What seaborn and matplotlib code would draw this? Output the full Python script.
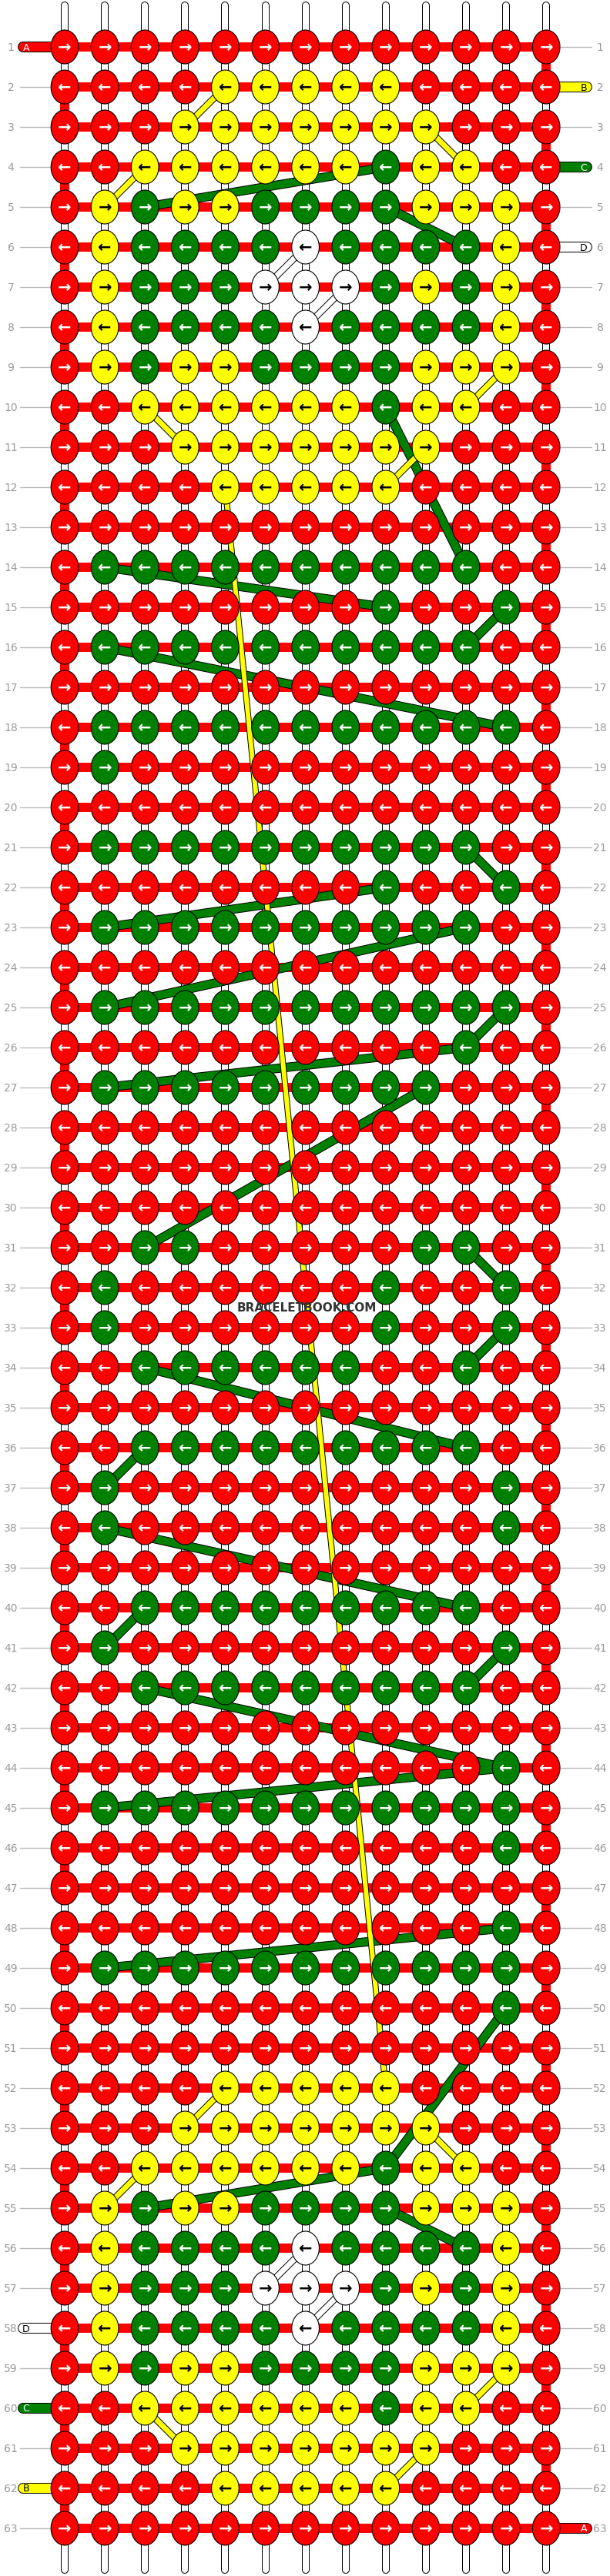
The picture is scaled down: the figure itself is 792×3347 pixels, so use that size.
import numpy as np
import pandas as pd
import matplotlib
matplotlib.use("Agg")
import matplotlib.pyplot as plt
import seaborn as sns
from matplotlib.path import Path

sns.set_style("white")
plt.rcParams['font.family'] = ['DejaVu Sans']

# knot colours, one string per row (13 knots): R red, Y yellow, G green, W white
rows = [
    "RRRRRRRRRRRRR", "RRRRYYYYYRRRR", "RRRYYYYYYYRRR", "RRYYYYYYGYYRR",
    "RYGYYGGGGYYYR", "RYGGGGWGGGGYR", "RYGGGWWWGYGYR", "RYGGGGWGGGGYR",
    "RYGYYGGGGYYYR", "RRYYYYYYGYYRR", "RRRYYYYYYYRRR", "RRRRYYYYYRRRR",
    "RRRRRRRRRRRRR", "RGGGGGGGGGGRR", "RRRRRRRRGRRGR", "RGGGGGGGGGGRR",
    "RRRRRRRRRRRRR", "RGGGGGGGGGGGR", "RGRRRRRRRRRRR", "RRRRRRRRRRRRR",
    "RGGGGGGGGGGRR", "RRRRRRRRGRRGR", "RGGGGGGGGGGRR", "RRRRRRRRRRRRR",
    "RGGGGGGGGGGGR", "RRRRRRRRRRGRR", "RGGGGGGGGGRRR", "RRRRRRRRRRRRR",
    "RRRRRRRRRRRRR", "RRRRRRRRRRRRR", "RRGGRRRRRGGRR", "RGRRRRRRGRRGR",
    "RGRRRRRRGRRGR", "RRGGGGGGRRGRR", "RRRRRRRRRRRRR", "RRGGGGGGGGGRR",
    "RGRRRRRRRRRGR", "RGRRRRRRRRRGR", "RRRRRRRRRRRRR", "RRGGGGGGGGGRR",
    "RGRRRRRRRRRGR", "RRGGGGGGGGGRR", "RRRRRRRRRRRRR", "RRRRRRRRRRRGR",
    "RGGGGGGGGGGGR", "RRRRRRRRRRRGR", "RRRRRRRRRRRRR", "RRRRRRRRRRRGR",
    "RGGGGGGGGGGGR", "RRRRRRRRRRRGR", "RRRRRRRRRRRRR", "RRRRYYYYYRRRR",
    "RRRYYYYYYYRRR", "RRYYYYYYGYYRR", "RYGYYGGGGYYYR", "RYGGGGWGGGGYR",
    "RYGGGWWWGYGYR", "RYGGGGWGGGGYR", "RYGYYGGGGYYYR", "RRYYYYYYGYYRR",
    "RRRYYYYYYYRRR", "RRRRYYYYYRRRR", "RRRRRRRRRRRRR",
]
row_labels = [str(i + 1) for i in range(len(rows))]
colour_map = {"R": "#ff0000", "Y": "#ffff00", "G": "#008000", "W": "#ffffff"}

# side threads: (row index, side, letter, colour key)
side_threads = [(0, "left", "A", "R"), (1, "right", "B", "Y"), (3, "right", "C", "G"),
                (5, "right", "D", "W"), (57, "left", "D", "W"), (59, "left", "C", "G"),
                (61, "left", "B", "Y"), (62, "right", "A", "R")]

# long yellow thread running down the middle: (row, col) pairs
yellow_long = [((11, 4.0), (51, 8.0))]

# short yellow crossings at the diamonds
yellow_short = [((1, 4), (2, 3)), ((2, 9), (3, 10)), ((3, 2), (4, 1)), ((8, 11), (9, 10)),
                ((9, 2), (10, 3)), ((10, 9), (11, 8)),
                ((51, 4), (52, 3)), ((52, 9), (53, 10)), ((53, 2), (54, 1)), ((58, 11), (59, 10)),
                ((59, 2), (60, 3)), ((60, 9), (61, 8))]

# white crossings in the diamond centres
white_short = [((5, 6), (6, 5)), ((6, 7), (7, 6)), ((55, 6), (56, 5)), ((56, 7), (57, 6))]

# green thread travelling across the rows
green_path = [((3, 8), (4, 2)), ((4, 8), (5, 10)), ((9, 8), (13, 10)), ((13, 1), (14, 8)),
              ((14, 11), (15, 10)), ((15, 1), (17, 11)), ((20, 10), (21, 11)), ((21, 8), (22, 1)),
              ((22, 10), (24, 1)), ((24, 11), (25, 10)), ((25, 10), (26, 1)), ((26, 9), (30, 2)),
              ((30, 10), (31, 11)), ((32, 11), (33, 10)), ((33, 2), (35, 10)), ((35, 2), (36, 1)),
              ((37, 1), (39, 10)), ((39, 2), (40, 1)), ((40, 11), (41, 10)), ((41, 2), (43, 11)),
              ((43, 11), (44, 1)), ((47, 11), (48, 1)), ((49, 11), (53, 8)), ((53, 8), (54, 2)),
              ((54, 8), (55, 10))]

W, H = 792, 3348
x0, dx = 84, 52.1
y0, dy = 62, 52.0
n_rows, n_cols = len(rows), len(rows[0])

def px(c):
    return x0 + c * dx

def py(r):
    return y0 + r * dy

recs = []
for r, s in enumerate(rows):
    for c, k in enumerate(s):
        recs.append({"x": px(c), "y": py(r), "k": k, "row": r})
df = pd.DataFrame(recs)

fig = plt.figure(figsize=(W / 100, H / 100), dpi=100)
ax = fig.add_axes([0, 0, 1, 1])
ax.set_xlim(0, W)
ax.set_ylim(H, 0)
ax.axis("off")

pt = 72 / 100  # points per pixel

# vertical white strands at top and bottom
for c in range(n_cols):
    for ya, yb in [(8, py(0)), (py(n_rows - 1), H - 8)]:
        ax.plot([px(c), px(c)], [ya, yb], color="black", lw=10 * pt, solid_capstyle="round", zorder=1)
        ax.plot([px(c), px(c)], [ya, yb], color="white", lw=8 * pt, solid_capstyle="round", zorder=1.1)
    for r in range(n_rows - 1):
        ax.plot([px(c), px(c)], [py(r), py(r + 1)], color="black", lw=10 * pt, zorder=1)
        ax.plot([px(c), px(c)], [py(r), py(r + 1)], color="white", lw=8 * pt, zorder=1.1)

# red working thread turning at the edges
for r in range(n_rows - 1):
    c = n_cols - 1 if r % 2 == 0 else 0
    ax.plot([px(c), px(c)], [py(r), py(r + 1)], color="#ff0000", lw=12 * pt, zorder=1.2)

# horizontal red threads
for r in range(n_rows):
    ax.plot([px(0), px(n_cols - 1)], [py(r), py(r)], color="#ff0000", lw=12 * pt, zorder=2)

# gray row label guides and labels
for r, lab in enumerate(row_labels):
    ax.plot([26, 66], [py(r), py(r)], color="#bbbbbb", lw=1, zorder=0.5)
    ax.plot([728, 768], [py(r), py(r)], color="#bbbbbb", lw=1, zorder=0.5)
    ax.text(14, py(r), lab, ha="center", va="center", fontsize=10, color="#999999")
    ax.text(779, py(r), lab, ha="center", va="center", fontsize=10, color="#999999")

# side thread stubs
for r, side, letter, k in side_threads:
    xa, xb = (30, px(0)) if side == "left" else (px(n_cols - 1), 762)
    ax.plot([xa, xb], [py(r), py(r)], color="black", lw=14 * pt, solid_capstyle="round", zorder=1.5)
    ax.plot([xa, xb], [py(r), py(r)], color=colour_map[k], lw=12 * pt, solid_capstyle="round", zorder=1.6)
    tx = 34 if side == "left" else 758
    tc = "white" if k in "RG" else "black"
    ax.text(tx, py(r), letter, ha="center", va="center", fontsize=9, color=tc, zorder=1.7)

def seg(a, b, colour, w, z):
    (ra, ca), (rb, cb) = a, b
    ax.plot([px(ca), px(cb)], [py(ra), py(rb)], color="black", lw=(w + 2) * pt, zorder=z)
    ax.plot([px(ca), px(cb)], [py(ra), py(rb)], color=colour, lw=w * pt, zorder=z + 0.01)

for a, b in green_path:
    seg(a, b, "#008000", 10, 2.3)
for a, b in yellow_long:
    seg(a, b, "#ffff00", 6, 2.5)
for a, b in yellow_short:
    seg(a, b, "#ffff00", 7, 2.4)
for a, b in white_short:
    seg(a, b, "white", 7, 2.4)

# knots as ellipses
t = np.linspace(0, 2 * np.pi, 60)
ell = Path(np.column_stack([0.81 * np.cos(t), np.sin(t)]), closed=True)
sns.scatterplot(data=df, x="x", y="y", hue="k", palette=colour_map, marker=ell,
                s=(44 * pt) ** 2, edgecolor="black", linewidth=0.8, legend=False,
                ax=ax, zorder=3)

# arrows
for _, d in df.iterrows():
    arrow = "→" if d["row"] % 2 == 0 else "←"
    col = "white" if d["k"] in "RG" else "black"
    ax.text(d["x"], d["y"], arrow, ha="center", va="center", fontsize=15,
            fontweight="bold", color=col, zorder=4)

ax.text(398, 1700, "BRACELETBOOK.COM", ha="center", va="center", fontsize=11,
        fontweight="bold", color="#333333", zorder=5)
ax.set_xlim(0, W)
ax.set_ylim(H, 0)

fig.savefig("out.png", dpi=100)
